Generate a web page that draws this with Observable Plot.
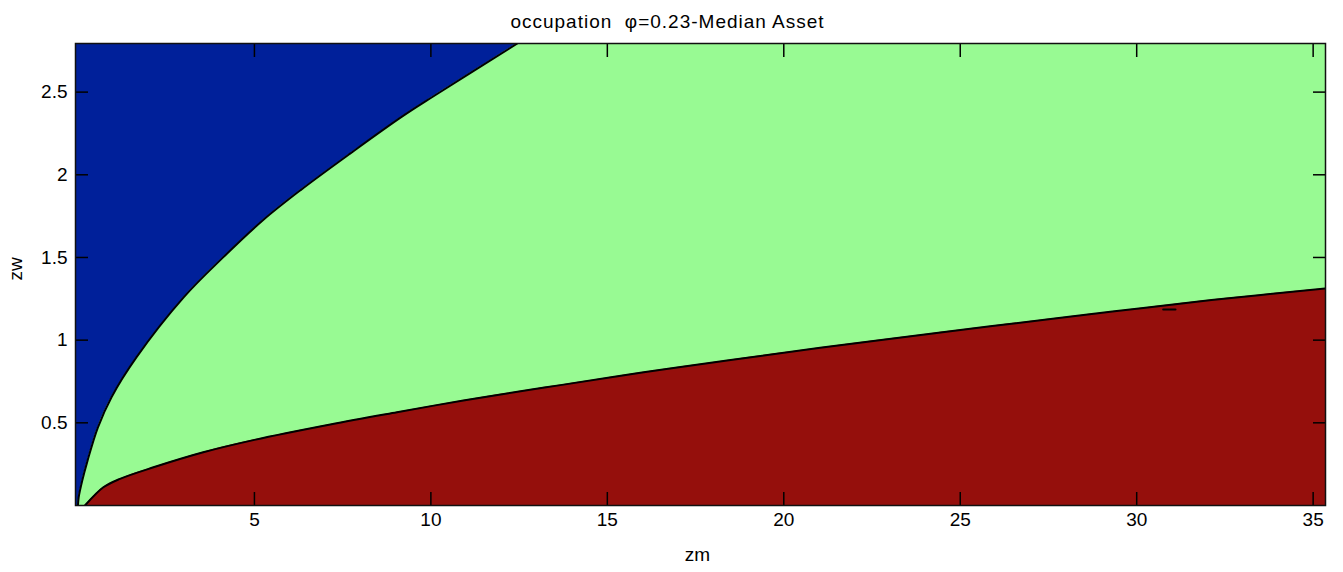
<!DOCTYPE html>
<html>
<head>
<meta charset="utf-8">
<script src="https://cdn.jsdelivr.net/npm/d3@7"></script>
<script src="https://cdn.jsdelivr.net/npm/@observablehq/plot@0.6"></script>
<style>
  html, body { margin: 0; padding: 0; background: #fff; }
  #chart { width: 1343px; height: 572px; }
</style>
</head>
<body>
<div id="chart"></div>
<script>
// ---- data ----
const titleText = "occupation  \u03C6=0.23-Median Asset";
const xLabel = "zm";
const yLabel = "zw";
const xDomain = [-0.07, 35.35];
const yDomain = [0, 2.794];
const xTicks = [5, 10, 15, 20, 25, 30, 35];
const yTicks = [0.5, 1, 1.5, 2, 2.5];

// blue / green boundary (zm as a function of zw)
const blueZw = [0, 0.05, 0.15, 0.27, 0.47, 0.655, 0.897, 1.26, 1.502, 1.725, 1.906, 2.128, 2.35, 2.481, 2.794];
const blueZm = [0, 0.02, 0.12, 0.27, 0.56, 0.95, 1.66, 3.0, 4.12, 5.24, 6.3, 7.71, 9.17, 10.12, 12.45];

// green / red boundary (zw as a function of zm)
const redZm = [0.2, 0.72, 1.19, 2.14, 3.55, 5.0, 7.15, 9.04, 10.92, 12.81, 13.67, 16.03, 18.39, 21.03, 24.16, 28.14, 30.0, 32.12, 35.35];
const redZw = [0, 0.11, 0.161, 0.231, 0.322, 0.397, 0.49, 0.564, 0.635, 0.70, 0.728, 0.806, 0.877, 0.954, 1.039, 1.143, 1.19, 1.243, 1.312];

// small contour artefact near zm≈31
const blipZm = [30.75, 31.1];
const blipZw = [1.186, 1.186];

const colBlue = "#00209a";
const colGreen = "#98fa93";
const colRed = "#950f0c";

// ---- build tables ----
const blue = blueZw.map((zw, i) => ({zw, zm: blueZm[i]}));
const red = redZm.map((zm, i) => ({zm, zw: redZw[i]}));
const blip = blipZm.map((zm, i) => ({zm, zw: blipZw[i]}));

const font = "'Liberation Sans', Arial, Helvetica, sans-serif";
const fs = 19;

const chart = Plot.plot({
  width: 1343,
  height: 572,
  marginLeft: 75,
  marginRight: 18,
  marginTop: 43,
  marginBottom: 67,
  x: {domain: xDomain},
  y: {domain: yDomain},
  style: {fontFamily: font, fontSize: fs + "px", color: "#000", background: "#fff"},
  marks: [
    Plot.frame({fill: colGreen}),
    Plot.areaY(red, {x: "zm", y1: 0, y2: "zw", fill: colRed, curve: "catmull-rom", clip: true}),
    Plot.areaX(blue, {y: "zw", x1: xDomain[0], x2: "zm", fill: colBlue, curve: "catmull-rom", clip: true}),
    Plot.line(red, {x: "zm", y: "zw", stroke: "#000", strokeWidth: 2, curve: "catmull-rom", clip: true}),
    Plot.line(blue, {x: "zm", y: "zw", stroke: "#000", strokeWidth: 2, curve: "catmull-rom", clip: true}),
    Plot.line(blip, {x: "zm", y: "zw", stroke: "#000", strokeWidth: 2, clip: true}),
    // inward ticks on all four sides
    Plot.axisX(xTicks, {anchor: "bottom", tickSize: 13, dy: -13, tickFormat: () => "", label: null, strokeWidth: 1.5}),
    Plot.axisX(xTicks, {anchor: "top", tickSize: 13, dy: 13, tickFormat: () => "", label: null, strokeWidth: 1.5}),
    Plot.axisY(yTicks, {anchor: "left", tickSize: 13, dx: 13, tickFormat: () => "", label: null, strokeWidth: 1.5}),
    Plot.axisY(yTicks, {anchor: "right", tickSize: 13, dx: -13, tickFormat: () => "", label: null, strokeWidth: 1.5}),
    // tick labels
    Plot.axisX(xTicks, {anchor: "bottom", tickSize: 0, tickPadding: 7, label: null, fontSize: fs, tickFormat: d => String(d)}),
    Plot.axisY(yTicks, {anchor: "left", tickSize: 0, tickPadding: 8, label: null, fontSize: fs, tickFormat: d => String(d)}),
    Plot.frame({stroke: "#111", strokeWidth: 1.5}),
    // axis titles and title
    Plot.text([xLabel], {frameAnchor: "bottom", dx: -3, dy: 49, text: d => d, fontSize: fs, lineAnchor: "middle"}),
    Plot.text([yLabel], {frameAnchor: "left", dx: -60, dy: 6, rotate: -90, text: d => d, fontSize: fs, lineAnchor: "middle"}),
    Plot.text([titleText], {frameAnchor: "top", dx: -33, dy: -22, text: d => d, fontSize: fs, lineAnchor: "middle"})
  ]
});
// widen the title spacing slightly, like the reference's bitmap font
d3.select(chart).selectAll("text")
  .filter(function() { return this.textContent === titleText; })
  .style("letter-spacing", "1px");
document.getElementById("chart").appendChild(chart);
</script>
</body>
</html>
